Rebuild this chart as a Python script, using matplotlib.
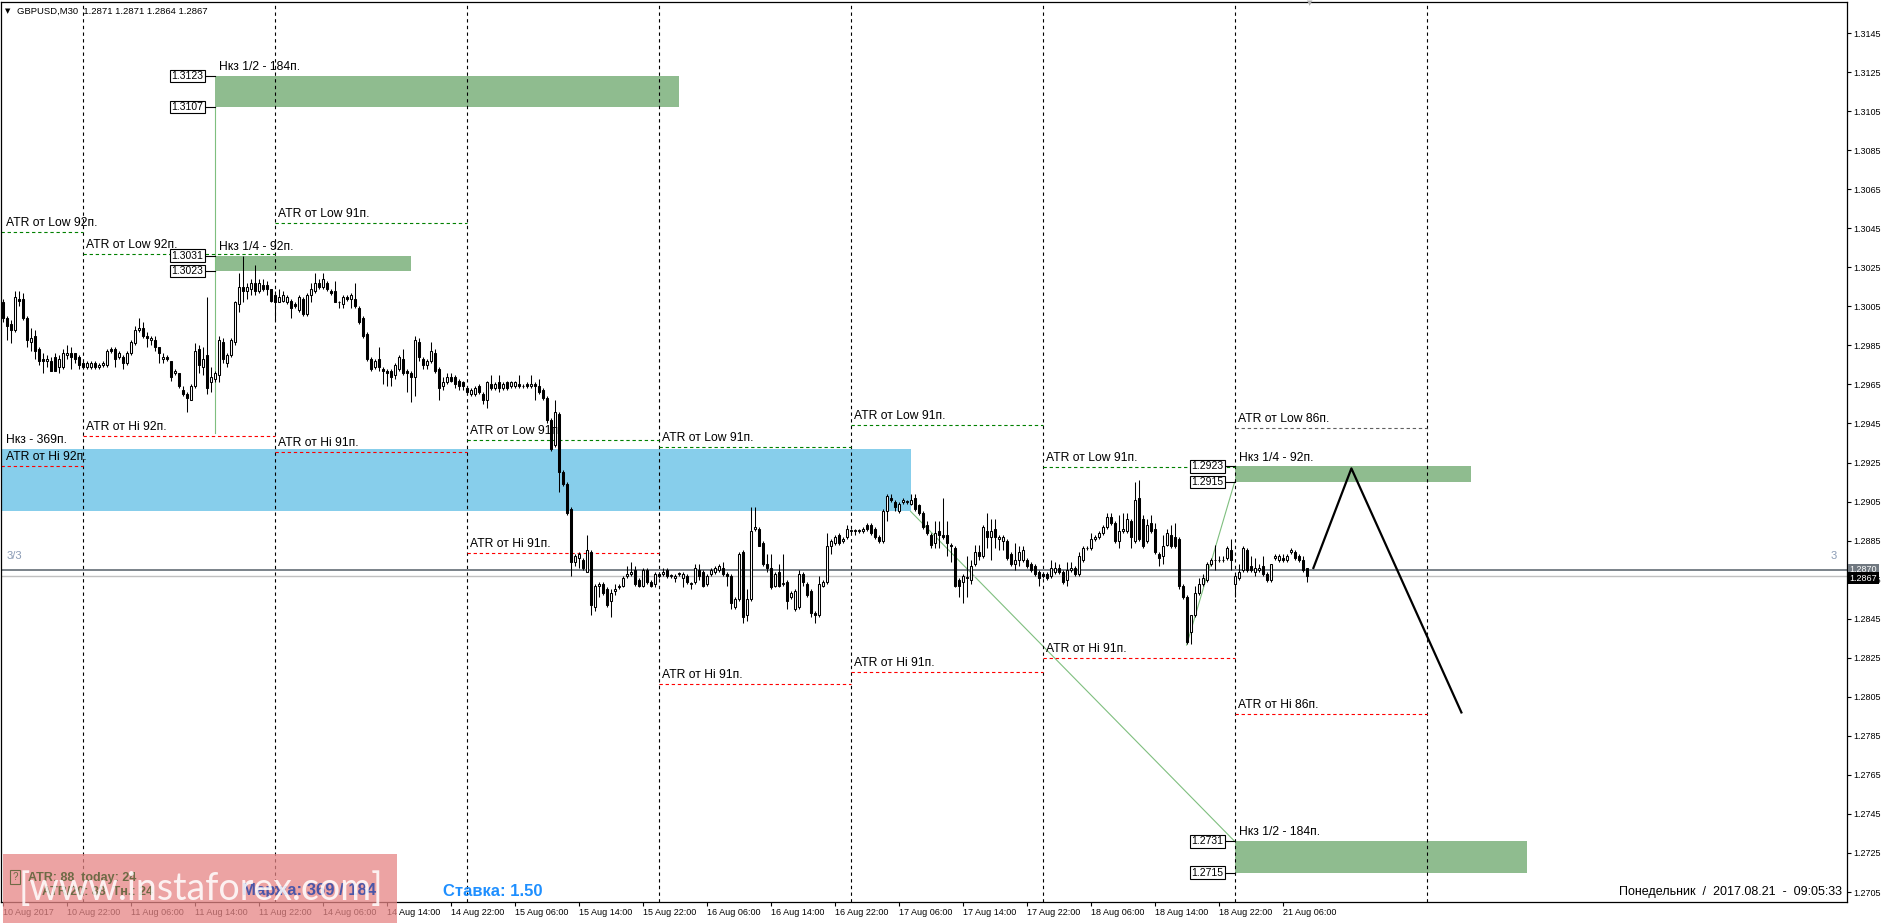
import matplotlib
matplotlib.use('Agg')
import matplotlib.pyplot as plt
import matplotlib.patches as mpatches
import matplotlib.transforms as mtransforms

plt.rcParams['font.family'] = ['Liberation Sans', 'DejaVu Sans']

# ---- candle data (GBPUSD M30, bar 0 = 10 Aug 14:00) ----
opens = [
    1.3007, 1.2999, 1.2996, 1.2993, 1.3009, 1.3009, 1.2999, 1.2987, 1.2990, 1.2983,
    1.2978, 1.2977, 1.2977, 1.2979, 1.2974, 1.2974, 1.2980, 1.2981, 1.2981, 1.2979,
    1.2976, 1.2974, 1.2974, 1.2976, 1.2974, 1.2975, 1.2975, 1.2983, 1.2983, 1.2979,
    1.2979, 1.2976, 1.2981, 1.2986, 1.2993, 1.2994, 1.2990, 1.2988, 1.2988, 1.2984,
    1.2978, 1.2979, 1.2977, 1.2971, 1.2971, 1.2962, 1.2960, 1.2957, 1.2964, 1.2983,
    1.2974, 1.2980, 1.2966, 1.2968, 1.2970, 1.2987, 1.2976, 1.2980, 1.2987, 1.3006,
    1.3015, 1.3013, 1.3014, 1.3017, 1.3013, 1.3016, 1.3016, 1.3014, 1.3011, 1.3007,
    1.3008, 1.3007, 1.3008, 1.3006, 1.3003, 1.3009, 1.3001, 1.3011, 1.3013, 1.3017,
    1.3015, 1.3017, 1.3013, 1.3013, 1.3007, 1.3006, 1.3010, 1.3009, 1.3009, 1.3004,
    1.2999, 1.2991, 1.2978, 1.2974, 1.2978, 1.2973, 1.2972, 1.2972, 1.2970, 1.2973,
    1.2978, 1.2972, 1.2971, 1.2969, 1.2987, 1.2978, 1.2975, 1.2977, 1.2981, 1.2973,
    1.2964, 1.2966, 1.2969, 1.2969, 1.2967, 1.2966, 1.2963, 1.2960, 1.2960, 1.2964,
    1.2960, 1.2957, 1.2965, 1.2963, 1.2966, 1.2963, 1.2966, 1.2964, 1.2964, 1.2965,
    1.2964, 1.2965, 1.2964, 1.2965, 1.2964, 1.2962, 1.2958, 1.2947, 1.2934, 1.2950,
    1.2920, 1.2914, 1.2901, 1.2874, 1.2876, 1.2875, 1.2869, 1.2879, 1.2851, 1.2862,
    1.2863, 1.2860, 1.2854, 1.2859, 1.2861, 1.2862, 1.2867, 1.2868, 1.2870, 1.2865,
    1.2862, 1.2870, 1.2864, 1.2863, 1.2868, 1.2868, 1.2870, 1.2867, 1.2866, 1.2868,
    1.2866, 1.2867, 1.2863, 1.2864, 1.2870, 1.2869, 1.2863, 1.2868, 1.2869, 1.2870,
    1.2871, 1.2868, 1.2867, 1.2851, 1.2855, 1.2879, 1.2847, 1.2855, 1.2891, 1.2891,
    1.2884, 1.2873, 1.2871, 1.2862, 1.2869, 1.2863, 1.2864, 1.2856, 1.2850, 1.2851,
    1.2868, 1.2863, 1.2859, 1.2848, 1.2847, 1.2862, 1.2864, 1.2882, 1.2884, 1.2888,
    1.2885, 1.2887, 1.2890, 1.2890, 1.2890, 1.2890, 1.2893, 1.2893, 1.2891, 1.2887,
    1.2885, 1.2900, 1.2907, 1.2905, 1.2900, 1.2905, 1.2905, 1.2904, 1.2907, 1.2903,
    1.2899, 1.2893, 1.2888, 1.2884, 1.2890, 1.2888, 1.2888, 1.2883, 1.2881, 1.2865,
    1.2864, 1.2866, 1.2865, 1.2873, 1.2879, 1.2877, 1.2890, 1.2887, 1.2891, 1.2886,
    1.2885, 1.2885, 1.2878, 1.2873, 1.2875, 1.2875, 1.2875, 1.2873, 1.2872, 1.2869,
    1.2868, 1.2868, 1.2867, 1.2869, 1.2871, 1.2869, 1.2865, 1.2870, 1.2871, 1.2868,
    1.2875, 1.2881, 1.2881, 1.2886, 1.2887, 1.2889, 1.2892, 1.2897, 1.2894, 1.2885,
    1.2890, 1.2890, 1.2895, 1.2885, 1.2907, 1.2896, 1.2885, 1.2894, 1.2891, 1.2878,
    1.2877, 1.2883, 1.2888, 1.2887, 1.2886, 1.2862, 1.2856, 1.2838, 1.2847, 1.2858,
    1.2863, 1.2865, 1.2873, 1.2875, 1.2875, 1.2875, 1.2876, 1.2880, 1.2863, 1.2866,
    1.2870, 1.2880, 1.2872, 1.2869, 1.2870, 1.2872, 1.2868, 1.2865, 1.2876, 1.2875,
    1.2876, 1.2875, 1.2879, 1.2879, 1.2877, 1.2875, 1.2871,
]
highs = [
    1.3009, 1.3000, 1.2998, 1.3013, 1.3013, 1.3012, 1.3000, 1.2994, 1.2993, 1.2984,
    1.2981, 1.2980, 1.2979, 1.2981, 1.2980, 1.2983, 1.2985, 1.2984, 1.2981, 1.2980,
    1.2977, 1.2977, 1.2977, 1.2977, 1.2976, 1.2977, 1.2983, 1.2984, 1.2984, 1.2982,
    1.2980, 1.2982, 1.2988, 1.2995, 1.2999, 1.2997, 1.2992, 1.2990, 1.2990, 1.2984,
    1.2981, 1.2980, 1.2977, 1.2973, 1.2971, 1.2964, 1.2961, 1.2965, 1.2986, 1.2985,
    1.2984, 1.3010, 1.2974, 1.2972, 1.2990, 1.2989, 1.2981, 1.2989, 1.3008, 1.3022,
    1.3031, 1.3017, 1.3019, 1.3026, 1.3019, 1.3019, 1.3018, 1.3014, 1.3013, 1.3014,
    1.3013, 1.3011, 1.3009, 1.3007, 1.3011, 1.3010, 1.3012, 1.3017, 1.3022, 1.3019,
    1.3022, 1.3018, 1.3014, 1.3018, 1.3008, 1.3011, 1.3011, 1.3012, 1.3017, 1.3005,
    1.3000, 1.2992, 1.2979, 1.2978, 1.2984, 1.2974, 1.2973, 1.2973, 1.2976, 1.2980,
    1.2983, 1.2973, 1.2972, 1.2990, 1.2989, 1.2979, 1.2978, 1.2987, 1.2983, 1.2974,
    1.2969, 1.2971, 1.2971, 1.2970, 1.2968, 1.2967, 1.2964, 1.2963, 1.2964, 1.2965,
    1.2961, 1.2967, 1.2970, 1.2966, 1.2970, 1.2966, 1.2967, 1.2967, 1.2967, 1.2970,
    1.2965, 1.2966, 1.2970, 1.2966, 1.2968, 1.2963, 1.2959, 1.2948, 1.2957, 1.2951,
    1.2921, 1.2915, 1.2902, 1.2878, 1.2879, 1.2876, 1.2888, 1.2880, 1.2863, 1.2864,
    1.2864, 1.2861, 1.2860, 1.2863, 1.2863, 1.2867, 1.2872, 1.2874, 1.2872, 1.2866,
    1.2871, 1.2871, 1.2865, 1.2869, 1.2869, 1.2871, 1.2871, 1.2868, 1.2868, 1.2869,
    1.2869, 1.2868, 1.2864, 1.2873, 1.2873, 1.2870, 1.2868, 1.2871, 1.2872, 1.2873,
    1.2874, 1.2869, 1.2868, 1.2856, 1.2879, 1.2880, 1.2860, 1.2902, 1.2902, 1.2892,
    1.2885, 1.2878, 1.2878, 1.2869, 1.2873, 1.2878, 1.2865, 1.2859, 1.2860, 1.2870,
    1.2869, 1.2864, 1.2860, 1.2849, 1.2867, 1.2865, 1.2889, 1.2886, 1.2888, 1.2889,
    1.2887, 1.2893, 1.2891, 1.2891, 1.2891, 1.2892, 1.2894, 1.2894, 1.2892, 1.2888,
    1.2901, 1.2909, 1.2909, 1.2906, 1.2905, 1.2907, 1.2906, 1.2909, 1.2909, 1.2904,
    1.2900, 1.2895, 1.2889, 1.2895, 1.2895, 1.2907, 1.2895, 1.2884, 1.2882, 1.2866,
    1.2868, 1.2877, 1.2875, 1.2883, 1.2883, 1.2893, 1.2899, 1.2896, 1.2896, 1.2888,
    1.2888, 1.2886, 1.2879, 1.2884, 1.2882, 1.2882, 1.2876, 1.2874, 1.2873, 1.2870,
    1.2869, 1.2869, 1.2875, 1.2874, 1.2873, 1.2870, 1.2874, 1.2874, 1.2872, 1.2879,
    1.2882, 1.2882, 1.2889, 1.2888, 1.2890, 1.2893, 1.2899, 1.2899, 1.2895, 1.2898,
    1.2899, 1.2899, 1.2896, 1.2915, 1.2916, 1.2898, 1.2896, 1.2898, 1.2894, 1.2879,
    1.2888, 1.2891, 1.2893, 1.2894, 1.2887, 1.2863, 1.2857, 1.2847, 1.2862, 1.2866,
    1.2868, 1.2874, 1.2876, 1.2883, 1.2877, 1.2877, 1.2882, 1.2886, 1.2868, 1.2873,
    1.2882, 1.2881, 1.2877, 1.2876, 1.2873, 1.2877, 1.2869, 1.2873, 1.2878, 1.2878,
    1.2878, 1.2878, 1.2881, 1.2880, 1.2878, 1.2877, 1.2871,
]
lows = [
    1.2997, 1.2988, 1.2986, 1.2992, 1.3005, 1.2998, 1.2984, 1.2982, 1.2978, 1.2975,
    1.2971, 1.2974, 1.2972, 1.2972, 1.2971, 1.2973, 1.2978, 1.2973, 1.2976, 1.2973,
    1.2973, 1.2973, 1.2973, 1.2973, 1.2973, 1.2974, 1.2974, 1.2981, 1.2974, 1.2978,
    1.2973, 1.2975, 1.2980, 1.2985, 1.2992, 1.2989, 1.2984, 1.2985, 1.2982, 1.2976,
    1.2976, 1.2977, 1.2967, 1.2970, 1.2963, 1.2959, 1.2951, 1.2957, 1.2963, 1.2971,
    1.2970, 1.2960, 1.2961, 1.2966, 1.2966, 1.2976, 1.2974, 1.2979, 1.2985, 1.3002,
    1.3007, 1.3009, 1.3011, 1.3011, 1.3012, 1.3013, 1.3011, 1.3007, 1.2998, 1.3007,
    1.3007, 1.3006, 1.2999, 1.3004, 1.3002, 1.3000, 1.3000, 1.3007, 1.3012, 1.3014,
    1.3014, 1.3013, 1.3011, 1.3007, 1.3004, 1.3004, 1.3008, 1.3004, 1.3004, 1.2996,
    1.2989, 1.2977, 1.2972, 1.2973, 1.2972, 1.2965, 1.2964, 1.2964, 1.2968, 1.2972,
    1.2970, 1.2961, 1.2956, 1.2959, 1.2977, 1.2973, 1.2973, 1.2976, 1.2971, 1.2957,
    1.2962, 1.2965, 1.2966, 1.2963, 1.2962, 1.2962, 1.2960, 1.2959, 1.2959, 1.2960,
    1.2955, 1.2953, 1.2962, 1.2962, 1.2961, 1.2962, 1.2962, 1.2963, 1.2963, 1.2963,
    1.2963, 1.2963, 1.2963, 1.2957, 1.2960, 1.2957, 1.2945, 1.2931, 1.2933, 1.2910,
    1.2913, 1.2898, 1.2867, 1.2872, 1.2871, 1.2870, 1.2869, 1.2847, 1.2849, 1.2856,
    1.2857, 1.2851, 1.2846, 1.2857, 1.2860, 1.2861, 1.2866, 1.2867, 1.2862, 1.2861,
    1.2861, 1.2863, 1.2861, 1.2861, 1.2866, 1.2867, 1.2866, 1.2866, 1.2864, 1.2867,
    1.2861, 1.2863, 1.2860, 1.2863, 1.2865, 1.2861, 1.2862, 1.2867, 1.2868, 1.2869,
    1.2867, 1.2862, 1.2850, 1.2850, 1.2854, 1.2843, 1.2844, 1.2854, 1.2890, 1.2882,
    1.2872, 1.2869, 1.2860, 1.2861, 1.2861, 1.2862, 1.2850, 1.2855, 1.2849, 1.2850,
    1.2862, 1.2856, 1.2846, 1.2843, 1.2846, 1.2861, 1.2863, 1.2878, 1.2883, 1.2883,
    1.2884, 1.2886, 1.2889, 1.2888, 1.2889, 1.2889, 1.2890, 1.2888, 1.2886, 1.2884,
    1.2884, 1.2895, 1.2905, 1.2900, 1.2899, 1.2904, 1.2904, 1.2903, 1.2900, 1.2898,
    1.2891, 1.2888, 1.2881, 1.2881, 1.2881, 1.2886, 1.2877, 1.2874, 1.2861, 1.2856,
    1.2853, 1.2856, 1.2863, 1.2872, 1.2875, 1.2876, 1.2881, 1.2875, 1.2881, 1.2880,
    1.2880, 1.2875, 1.2872, 1.2870, 1.2872, 1.2874, 1.2871, 1.2869, 1.2867, 1.2862,
    1.2866, 1.2865, 1.2866, 1.2868, 1.2868, 1.2863, 1.2862, 1.2869, 1.2867, 1.2867,
    1.2874, 1.2880, 1.2880, 1.2885, 1.2886, 1.2888, 1.2891, 1.2893, 1.2884, 1.2881,
    1.2889, 1.2889, 1.2881, 1.2884, 1.2885, 1.2881, 1.2884, 1.2889, 1.2878, 1.2872,
    1.2873, 1.2882, 1.2881, 1.2881, 1.2860, 1.2855, 1.2832, 1.2832, 1.2846, 1.2857,
    1.2862, 1.2864, 1.2872, 1.2870, 1.2874, 1.2874, 1.2875, 1.2870, 1.2856, 1.2865,
    1.2869, 1.2869, 1.2869, 1.2867, 1.2869, 1.2867, 1.2864, 1.2864, 1.2875, 1.2874,
    1.2874, 1.2874, 1.2878, 1.2875, 1.2874, 1.2869, 1.2864,
]
closes = [
    1.2999, 1.2995, 1.2993, 1.3010, 1.3008, 1.2999, 1.2988, 1.2989, 1.2982, 1.2977,
    1.2977, 1.2978, 1.2972, 1.2972, 1.2978, 1.2981, 1.2981, 1.2979, 1.2978, 1.2975,
    1.2974, 1.2976, 1.2976, 1.2974, 1.2975, 1.2976, 1.2982, 1.2982, 1.2978, 1.2981,
    1.2976, 1.2981, 1.2987, 1.2993, 1.2994, 1.2990, 1.2989, 1.2989, 1.2984, 1.2981,
    1.2979, 1.2978, 1.2969, 1.2972, 1.2964, 1.2960, 1.2958, 1.2964, 1.2982, 1.2975,
    1.2978, 1.2963, 1.2969, 1.2971, 1.2988, 1.2978, 1.2980, 1.2988, 1.3007, 1.3015,
    1.3013, 1.3015, 1.3017, 1.3013, 1.3017, 1.3014, 1.3014, 1.3008, 1.3007, 1.3010,
    1.3011, 1.3010, 1.3004, 1.3005, 1.3010, 1.3001, 1.3011, 1.3014, 1.3017, 1.3015,
    1.3019, 1.3014, 1.3012, 1.3007, 1.3007, 1.3010, 1.3009, 1.3011, 1.3005, 1.2997,
    1.2990, 1.2978, 1.2973, 1.2977, 1.2974, 1.2972, 1.2971, 1.2969, 1.2975, 1.2979,
    1.2971, 1.2971, 1.2969, 1.2988, 1.2979, 1.2975, 1.2977, 1.2982, 1.2972, 1.2963,
    1.2966, 1.2969, 1.2967, 1.2965, 1.2964, 1.2964, 1.2961, 1.2962, 1.2963, 1.2961,
    1.2957, 1.2966, 1.2963, 1.2965, 1.2963, 1.2965, 1.2963, 1.2966, 1.2966, 1.2964,
    1.2964, 1.2964, 1.2965, 1.2964, 1.2961, 1.2958, 1.2947, 1.2932, 1.2951, 1.2920,
    1.2914, 1.2899, 1.2874, 1.2877, 1.2878, 1.2871, 1.2880, 1.2852, 1.2862, 1.2863,
    1.2858, 1.2852, 1.2858, 1.2860, 1.2862, 1.2866, 1.2868, 1.2869, 1.2863, 1.2862,
    1.2870, 1.2864, 1.2862, 1.2868, 1.2867, 1.2869, 1.2867, 1.2867, 1.2867, 1.2868,
    1.2868, 1.2864, 1.2863, 1.2871, 1.2867, 1.2862, 1.2867, 1.2870, 1.2871, 1.2872,
    1.2868, 1.2867, 1.2853, 1.2855, 1.2878, 1.2846, 1.2855, 1.2890, 1.2892, 1.2882,
    1.2873, 1.2871, 1.2861, 1.2868, 1.2862, 1.2863, 1.2854, 1.2858, 1.2859, 1.2868,
    1.2864, 1.2857, 1.2848, 1.2847, 1.2863, 1.2864, 1.2882, 1.2885, 1.2887, 1.2884,
    1.2886, 1.2891, 1.2890, 1.2890, 1.2890, 1.2891, 1.2891, 1.2889, 1.2887, 1.2885,
    1.2900, 1.2908, 1.2906, 1.2902, 1.2904, 1.2906, 1.2905, 1.2906, 1.2901, 1.2899,
    1.2892, 1.2889, 1.2883, 1.2889, 1.2888, 1.2887, 1.2884, 1.2882, 1.2862, 1.2862,
    1.2867, 1.2866, 1.2872, 1.2879, 1.2877, 1.2892, 1.2887, 1.2890, 1.2887, 1.2887,
    1.2887, 1.2876, 1.2873, 1.2875, 1.2879, 1.2880, 1.2872, 1.2870, 1.2868, 1.2866,
    1.2867, 1.2866, 1.2871, 1.2871, 1.2869, 1.2864, 1.2870, 1.2871, 1.2868, 1.2877,
    1.2881, 1.2881, 1.2886, 1.2887, 1.2889, 1.2892, 1.2897, 1.2894, 1.2885, 1.2890,
    1.2891, 1.2896, 1.2887, 1.2906, 1.2886, 1.2882, 1.2893, 1.2890, 1.2879, 1.2876,
    1.2882, 1.2889, 1.2882, 1.2882, 1.2862, 1.2856, 1.2833, 1.2847, 1.2858, 1.2863,
    1.2866, 1.2873, 1.2875, 1.2875, 1.2875, 1.2875, 1.2881, 1.2875, 1.2867, 1.2869,
    1.2881, 1.2870, 1.2870, 1.2871, 1.2871, 1.2868, 1.2865, 1.2873, 1.2877, 1.2877,
    1.2875, 1.2877, 1.2880, 1.2876, 1.2875, 1.2870, 1.2867,
]

time_labels = ['10 Aug 2017', '10 Aug 22:00', '11 Aug 06:00', '11 Aug 14:00', '11 Aug 22:00',
               '14 Aug 06:00', '14 Aug 14:00', '14 Aug 22:00', '15 Aug 06:00', '15 Aug 14:00',
               '15 Aug 22:00', '16 Aug 06:00', '16 Aug 14:00', '16 Aug 22:00', '17 Aug 06:00',
               '17 Aug 14:00', '17 Aug 22:00', '18 Aug 06:00', '18 Aug 14:00', '18 Aug 22:00',
               '21 Aug 06:00']
label_bars = [16 * k for k in range(len(time_labels))]
price_ticks = [round(1.2705 + 0.002 * k, 4) for k in range(23)]

# day separators (bar index of 00:00) and ATR levels per day
day_starts = [-0.4, 20, 68, 116, 164, 212, 260, 308]
day_ends = [20, 68, 116, 164, 212, 260, 308, 356]
atr_low = [1.30431, 1.30318, 1.30477, 1.29365, 1.29329, 1.29442, 1.29227, 1.29427]
atr_hi = [1.29232, 1.29386, 1.29304, 1.28787, 1.28116, 1.28177, 1.28249, 1.27962]
atr_pips = [92, 92, 91, 91, 91, 91, 91, 86]

# target zones
zone_left = [53, 53, 308, 308]
zone_right = [169, 102, 367, 381]
zone_top = [1.3123, 1.3031, 1.2923, 1.2731]
zone_bottom = [1.3107, 1.3023, 1.2915, 1.2715]
zone_names = ['Нкз 1/2 - 184п.', 'Нкз 1/4 - 92п.', 'Нкз 1/4 - 92п.', 'Нкз 1/2 - 184п.']
blue_zone = (-0.4, 227, 1.2900, 1.2932)

link_bars = [(53, 53), (227, 308), (296, 308)]
link_prices = [(1.2940, 1.3107), (1.2900, 1.2731), (1.28315, 1.2915)]

proj_bars = [327.7, 337.2, 364.7]
proj_prices = [1.2871, 1.2922, 1.2797]

ask_line = 1.2870
bid_line = 1.2867

W, H = 1889, 923


def fx(px):
    return px / W


def fy(py):
    return 1 - py / H


fig = plt.figure(figsize=(W / 100, H / 100), dpi=100)
fig.patch.set_facecolor('white')
ax = fig.add_axes([1 / W, 21 / H, 1846 / W, 900 / H])
ax.set_xlim(-0.4, 461.1)
ax.set_ylim(1.26999, 1.31609)
ax.set_facecolor('white')

# zones in background
bl, br, bb, bt = blue_zone
ax.add_patch(mpatches.Rectangle((bl, bb), br - bl, bt - bb, facecolor='#87ceeb', edgecolor='none', zorder=1))
for l, r, t, b, name in zip(zone_left, zone_right, zone_top, zone_bottom, zone_names):
    ax.add_patch(mpatches.Rectangle((l, b), r - l, t - b, facecolor='#8fbc8f', edgecolor='none', zorder=1))
    ax.text(l + 1.2, t + 0.0003, name, fontsize=8.7, va='baseline', ha='left', zorder=6)
    for p in (t, b):
        ax.plot([l - 2.6, l], [p, p], color='black', lw=0.8, zorder=5)
        ax.text(l - 2.8, p, f'{p:.4f}', fontsize=7.5, ha='right', va='center', zorder=6,
                bbox=dict(boxstyle='square,pad=0.12', fc='white', ec='black', lw=0.8))

for (b0, b1), (p0, p1) in zip(link_bars, link_prices):
    ax.plot([b0, b1], [p0, p1], color='#7fbf7f', lw=0.8, zorder=2)

# day separators
for d in day_starts[1:] + [day_ends[-1]]:
    ax.axvline(d, color='black', lw=0.8, ls=(0, (3, 3)), zorder=2)

# ATR levels
for i, (s, e) in enumerate(zip(day_starts, day_ends)):
    low_col = '#008000' if i < 7 else '#606060'
    ax.plot([s, e], [atr_low[i], atr_low[i]], color=low_col, lw=0.8, ls=(0, (3, 2.5)), zorder=2)
    ax.plot([s, e], [atr_hi[i], atr_hi[i]], color='#ff0000', lw=0.8, ls=(0, (3, 2.5)), zorder=2)
    tx = max(s, 0) + 0.9
    ax.text(tx, atr_low[i] + 0.0003, f'ATR от Low {atr_pips[i]}п.', fontsize=8.7, va='baseline', zorder=6)
    ax.text(tx, atr_hi[i] + 0.0003, f'ATR от Hi {atr_pips[i]}п.', fontsize=8.7, va='baseline', zorder=6)
ax.text(0.9, 1.2935, 'Нкз - 369п.', fontsize=8.7, va='baseline', zorder=6)

# bid / ask lines
ax.axhline(ask_line, color='#707880', lw=1.3, zorder=2)
ax.axhline(bid_line, color='#c0c0c0', lw=1.0, zorder=2)
ax.text(1.0, 1.2877, '3/3', fontsize=8, color='#8a9bb5', va='center')
ax.text(458.5, 1.2877, '3', fontsize=8, color='#8a9bb5', va='center', ha='right')

# candles
idx = list(range(len(closes)))
ax.vlines(idx, lows, highs, color='black', lw=0.75, zorder=3)
bottoms = [min(o, c) for o, c in zip(opens, closes)]
heights = [max(abs(c - o), 0.00003) for o, c in zip(opens, closes)]
faces = ['white' if c >= o else 'black' for o, c in zip(opens, closes)]
ax.bar(idx, heights, bottom=bottoms, width=0.55, color=faces, edgecolor='black', linewidth=0.75, zorder=4)

# projection
ax.plot(proj_bars, proj_prices, color='black', lw=1.6, zorder=5)

# axes styling
for sp in ax.spines.values():
    sp.set_color('black')
    sp.set_linewidth(0.9)
ax.yaxis.tick_right()
ax.set_yticks(price_ticks)
ax.set_yticklabels([f'{p:.4f}' for p in price_ticks])
ax.set_xticks(label_bars)
ax.set_xticklabels(time_labels)
ax.tick_params(axis='y', direction='out', length=3, width=0.8, labelsize=6.5, pad=1.5)
ax.tick_params(axis='x', direction='out', length=3, width=0.8, labelsize=6.5, pad=1.5)
for lab in ax.get_xticklabels():
    lab.set_ha('left')

tr = mtransforms.blended_transform_factory(ax.transAxes, ax.transData)
ax.text(1.0015, ask_line, f'{ask_line:.4f}', transform=tr, fontsize=6.5, color='white', va='center',
        ha='left', clip_on=False, zorder=7, bbox=dict(boxstyle='square,pad=0.15', fc='#707880', ec='none'))
ax.text(1.0015, bid_line - 0.00012, f'{bid_line:.4f}', transform=tr, fontsize=6.5, color='white',
        va='center', ha='left', clip_on=False, zorder=8,
        bbox=dict(boxstyle='square,pad=0.15', fc='black', ec='none'))

# header and footer text
fig.text(fx(5), fy(11), '▼', fontsize=5, va='center', family='DejaVu Sans')
fig.text(fx(17), fy(11), 'GBPUSD,M30  1.2871 1.2871 1.2864 1.2867', fontsize=6.8, va='center')
fig.text(fx(1310), fy(3), '▼', fontsize=5, va='center', color='#b0b0b0', ha='center', family='DejaVu Sans')
fig.text(fx(1842), fy(895), 'Понедельник  /  2017.08.21  -  09:05:33', fontsize=9, ha='right', va='baseline')

# info panel bottom-left
fig.patches.append(mpatches.Rectangle((fx(3), fy(923)), 394 / W, 69 / H, transform=fig.transFigure,
                                      facecolor=(0.9, 0.52, 0.52), alpha=0.75, edgecolor='none', zorder=1))
fig.text(fx(15), fy(877), '?', fontsize=7, va='center', ha='center', zorder=2,
         bbox=dict(boxstyle='square,pad=0.25', fc='none', ec='#6e6a45', lw=0.8), color='#6e6a45')
fig.text(fx(28), fy(878), 'ATR: 88  today: 24', fontsize=9, fontweight='bold', color='#6e6a45',
         va='center', zorder=2)
fig.text(fx(42), fy(892), 'ATR/20: 88  Тн.: 24', fontsize=9, fontweight='bold', color='#6e6a45',
         va='center', zorder=2)
fig.text(fx(242), fy(891), 'Маржа: 369 / 184', fontsize=12, fontweight='bold', color='#4a56a8',
         va='center', zorder=2)
fig.text(fx(443), fy(891), 'Ставка: 1.50', fontsize=12, fontweight='bold', color='#1e8fff',
         va='center', zorder=2)
fig.text(fx(201), fy(889), '[www.instaforex.com]', fontsize=27, color='white', alpha=0.85,
         ha='center', va='center', zorder=3, family=['Lato', 'DejaVu Sans'])

fig.savefig('out.png', dpi=100)
